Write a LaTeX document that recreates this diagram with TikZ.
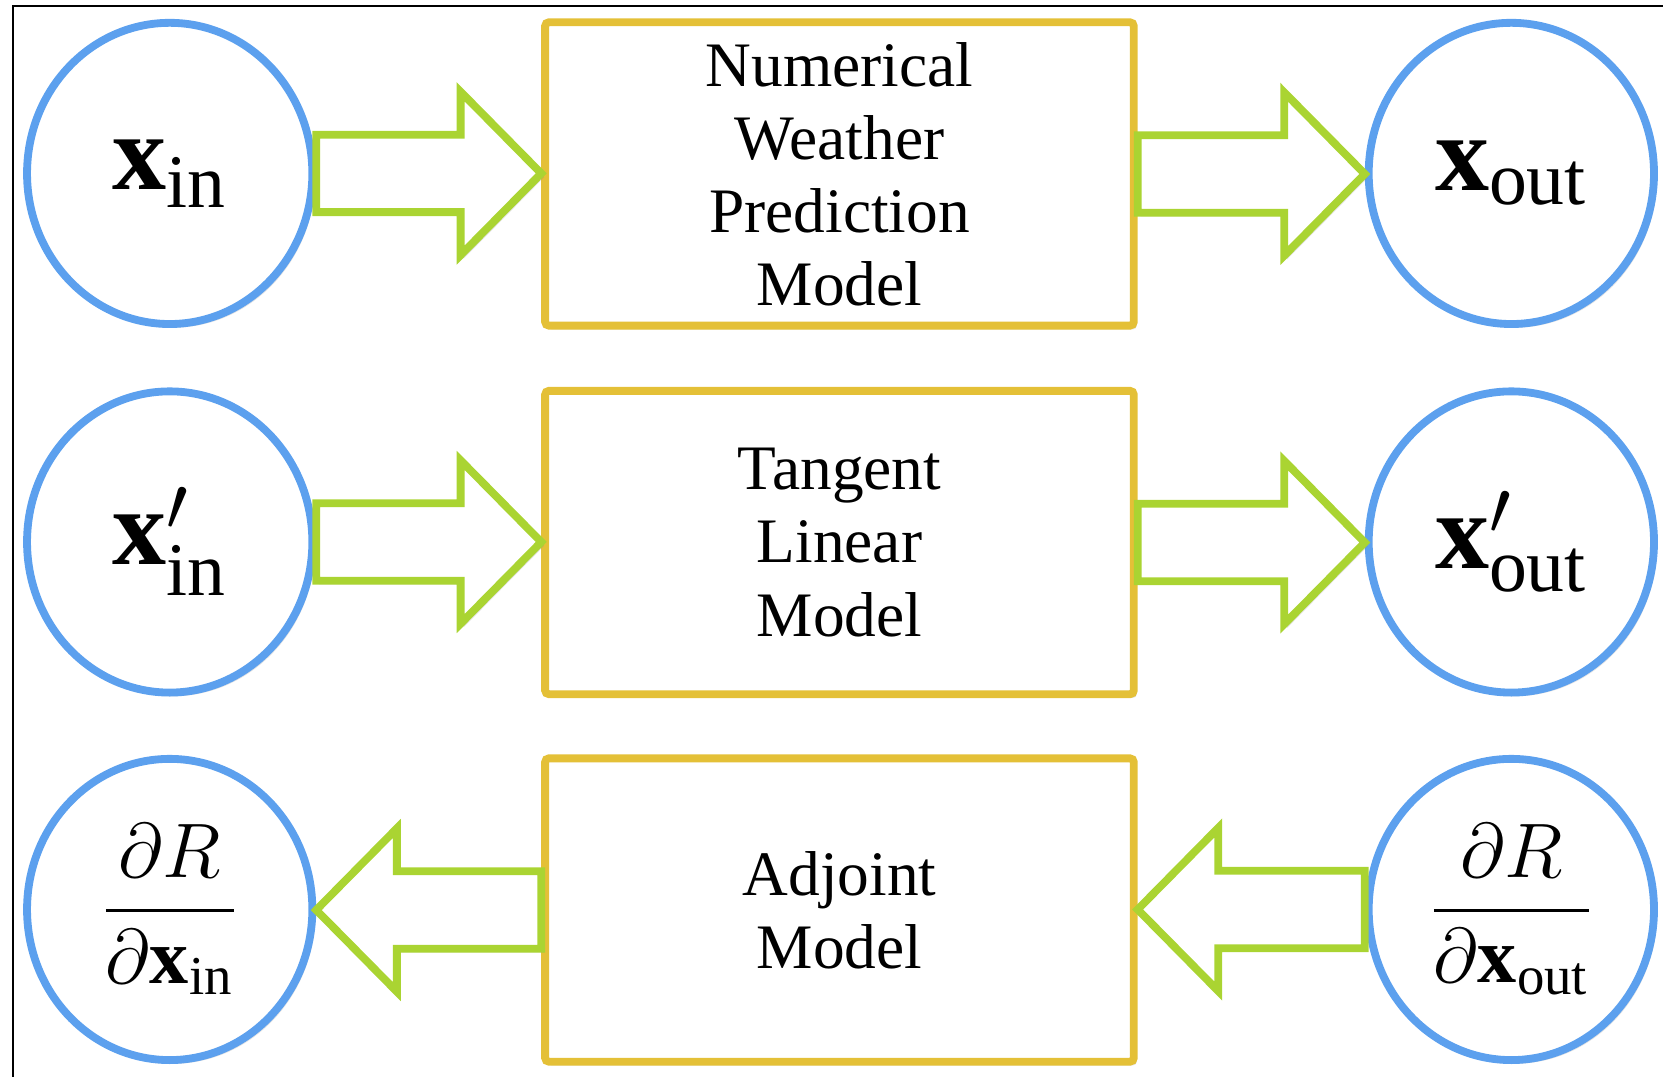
\documentclass[tikz,border=0pt]{standalone}
\usepackage{amsmath}
\usepackage{fontspec}
\setmainfont{Liberation Serif}
\usetikzlibrary{positioning,calc,shapes.geometric,shadows}
\definecolor{ringblue}{RGB}{92,160,238}
\definecolor{boxgold}{RGB}{228,192,55}
\definecolor{flowgreen}{RGB}{170,212,50}
\tikzset{
  soft/.style={drop shadow={shadow xshift=0.8pt,shadow yshift=-1pt,opacity=0.22}},
  vecnode/.style={ellipse,draw=ringblue,fill=white,line width=2.1pt,minimum width=2.69cm,minimum height=2.84cm,inner sep=0pt,soft,font=\fontsize{29}{32}\selectfont},
  gradnode/.style={vecnode,font=\fontsize{21}{24}\selectfont},
  modelbox/.style={draw=boxgold,fill=white,line width=2.1pt,rounded corners=1pt,minimum width=5.55cm,minimum height=2.86cm,align=center,soft,font=\fontsize{17}{19.6}\selectfont},
  flowarr/.style={draw=flowgreen,fill=white,line width=2.1pt,soft},
  frameline/.style={line width=0.6pt,black}
}
% block arrow from #1 to #2, #3 = +1 (right) or -1 (left)
\newcommand{\blockarrow}[3]{%
  \draw[flowarr] let \p1=(#1), \p2=(#2) in
    (\x1,{\y1+0.365cm}) -- ({\x2-(#3)*0.76cm},{\y1+0.365cm}) -- ({\x2-(#3)*0.76cm},{\y1+0.77cm})
    -- (\x2,\y1) -- ({\x2-(#3)*0.76cm},{\y1-0.77cm}) -- ({\x2-(#3)*0.76cm},{\y1-0.365cm})
    -- (\x1,{\y1-0.365cm}) -- cycle;}
\begin{document}
\begin{tikzpicture}
    \useasboundingbox (0,0) rectangle (15.68,-10.15);
    \draw[frameline] (0.12,-10.15) -- (0.12,-0.06) -- (15.68,-0.06);
    % forward model
    \node[vecnode] (xin) at (1.60,-1.635) {$\mathbf{x}_{\mathrm{in}}$};
    \node[modelbox] (nwp) at (7.915,-1.64) {Numerical\\Weather\\Prediction\\Model};
    \node[vecnode] (xout) at (14.25,-1.635) {$\mathbf{x}_{\mathrm{out}}$};
    % tangent linear
    \node[vecnode] (tin) at (1.60,-5.11) {$\mathbf{x}'_{\mathrm{in}}$};
    \node[modelbox] (tlm) at (7.915,-5.115) {Tangent\\Linear\\Model};
    \node[vecnode] (tout) at (14.25,-5.11) {$\mathbf{x}'_{\mathrm{out}}$};
    % adjoint
    \node[gradnode] (ain) at (1.60,-8.575) {$\dfrac{\partial R}{\partial\mathbf{x}_{\mathrm{in}}}$};
    \node[modelbox] (adj) at (7.915,-8.58) {Adjoint\\Model};
    \node[gradnode] (aout) at (14.25,-8.575) {$\dfrac{\partial R}{\partial\mathbf{x}_{\mathrm{out}}}$};
    \blockarrow{xin.east}{nwp.west}{1}
    \blockarrow{nwp.east}{xout.west}{1}
    \blockarrow{tin.east}{tlm.west}{1}
    \blockarrow{tlm.east}{tout.west}{1}
    \blockarrow{adj.west}{ain.east}{-1}
    \blockarrow{aout.west}{adj.east}{-1}
\end{tikzpicture}
\end{document}
